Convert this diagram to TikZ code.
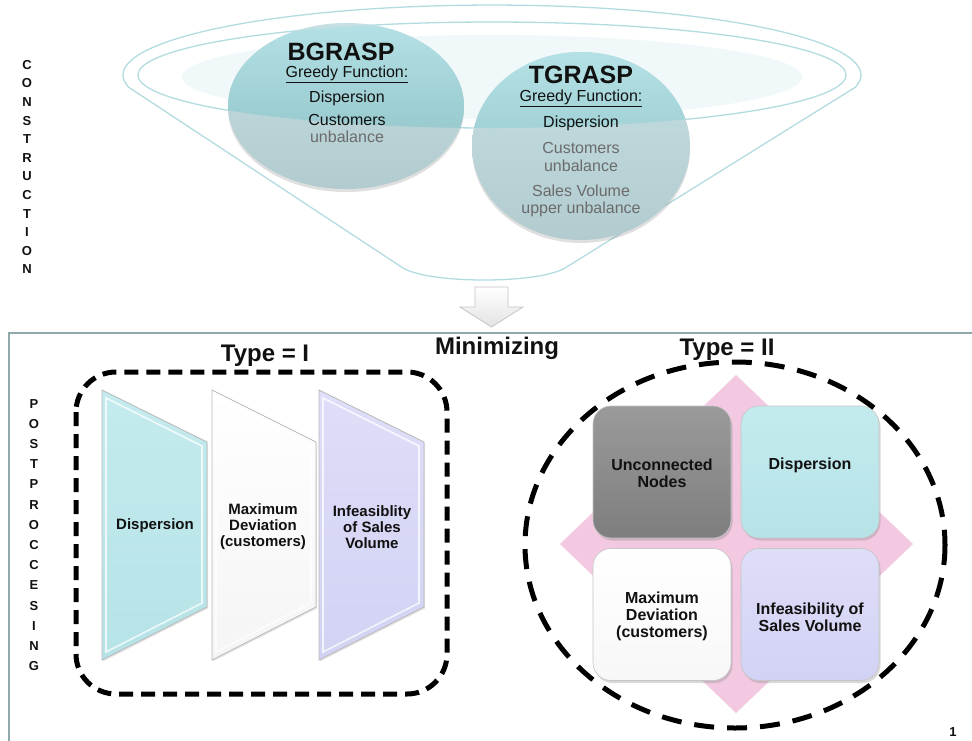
\documentclass[tikz,border=0pt]{standalone}
\usepackage{fontspec}
\setmainfont{Liberation Sans}
\usetikzlibrary{shadows}
\definecolor{funnelc}{HTML}{B3DCE1}
\definecolor{lidfill}{HTML}{F0F8FA}
\definecolor{circtop}{HTML}{B4E1E5}
\definecolor{circmid}{HTML}{88BDC2}
\definecolor{circlow}{HTML}{C6DFE2}
\definecolor{circbot}{HTML}{B2CBCF}
\definecolor{graytxt}{HTML}{6B6B6B}
\definecolor{framec}{HTML}{8FA8AC}
\definecolor{cyanbox}{HTML}{C4EBEE}
\definecolor{cyanboxb}{HTML}{B6E3E7}
\definecolor{lavbox}{HTML}{DEDEF9}
\definecolor{lavboxb}{HTML}{D2D2F4}
\definecolor{darkboxt}{HTML}{9A9A9A}
\definecolor{darkboxb}{HTML}{7E7E7E}
\definecolor{pinkd}{HTML}{F2C9E0}
\definecolor{txt}{HTML}{111111}
\tikzset{
  funnelline/.style={draw=funnelc, line width=1.3pt},
  circshade/.style={top color=circlow, bottom color=circbot,
     drop shadow={opacity=0.25, shadow xshift=0pt, shadow yshift=-3pt}},
  lidshade/.style={top color=circtop, bottom color=circmid},
  bigtitle/.style={font=\bfseries\fontsize{25}{25}\selectfont, text=txt, inner sep=0pt},
  regtxt/.style={font=\fontsize{16}{16}\selectfont, text=txt, inner sep=0pt},
  graytext/.style={regtxt, text=graytxt},
  vertletters/.style={font=\bfseries\fontsize{13}{#1}\selectfont, align=center, inner sep=0pt, text=txt},
  headtxt/.style={font=\bfseries\fontsize{24}{24}\selectfont, text=txt, inner sep=0pt},
  dashbox/.style={draw=black, line width=5pt, dash pattern=on 14pt off 8pt},
  dashell/.style={draw=black, line width=5pt, dash pattern=on 20pt off 13pt},
  trapshape/.style={draw=gray!55, line width=0.8pt,
     drop shadow={opacity=0.2, shadow xshift=1pt, shadow yshift=-1.5pt}},
  bevel/.style={draw=white, line width=1.6pt, opacity=0.75},
  traptxt/.style={font=\bfseries\fontsize{15}{16}\selectfont, align=center, text=txt, inner sep=0pt},
  qbox/.style={draw=gray!45, line width=0.6pt, rounded corners=18pt,
     minimum width=138pt, minimum height=132pt, inner sep=0pt,
     drop shadow={opacity=0.3, shadow xshift=1.5pt, shadow yshift=-2.5pt}},
  qtxt/.style={font=\bfseries\fontsize{16}{17}\selectfont, align=center, text=txt, inner sep=0pt},
}
\begin{document}
\begin{tikzpicture}[x=1pt,y=-1pt]
\useasboundingbox[fill=white] (0,0) rectangle (972,740);

% ---------- funnel ----------
\fill[lidfill] (492,77) ellipse[x radius=310, y radius=42];
\draw[funnelline] (492,75) ellipse[x radius=354, y radius=53];
\draw[funnelline] (128.6,87.2) arc[start angle=170, end angle=370, x radius=369, y radius=70]
   -- (565,268) .. controls (538,284) and (430,284) .. (403,268) -- cycle;

% circles (lower part)
\path[circshade] (346,106) ellipse[x radius=118, y radius=83];
\path[circshade] (581,146) ellipse[x radius=109, y radius=94];
% circles (part inside the lid)
\begin{scope}
  \clip (492,75) ellipse[x radius=354, y radius=53];
  \path[lidshade] (346,106) ellipse[x radius=118, y radius=83];
  \path[lidshade] (581,146) ellipse[x radius=109, y radius=94];
\end{scope}

% BGRASP texts
\node[bigtitle] (bgt) at (341,52) {BGRASP};
\node[regtxt] (bgg) at (347,74) {\underline{Greedy Function:}};
\node[regtxt] (bgd) at (347,98) {Dispersion};
\node[regtxt] (bgc) at (347,120) {Customers};
\node[graytext] (bgu) at (347,137) {unbalance};

% TGRASP texts
\node[bigtitle] (tgt) at (581,75) {TGRASP};
\node[regtxt] (tgg) at (581,98) {\underline{Greedy Function:}};
\node[regtxt] (tgd) at (581,123) {Dispersion};
\node[graytext] (tgc) at (581,148) {Customers};
\node[graytext] (tgu) at (581,166) {unbalance};
\node[graytext] (tgs) at (581,191) {Sales Volume};
\node[graytext] (tgv) at (581,209) {upper unbalance};

% vertical label
\node[vertletters=18.6] (constr) at (27,167) {C\\O\\N\\S\\T\\R\\U\\C\\T\\I\\O\\N};

% ---------- arrow ----------
\path[draw=gray!45, line width=0.8pt, top color=white, bottom color=gray!22]
  (475,287) -- (508,287) -- (508,307) -- (523,307) -- (491.5,327) -- (460,307) -- (475,307) -- cycle;

% ---------- lower frame ----------
\draw[framec, line width=2.5pt] (972,333) -- (9,333) -- (9,742);

\node[headtxt] (minim) at (497,348) {Minimizing};
\node[headtxt] (type1) at (265,356) {Type = I};
\node[headtxt] (type2) at (727,350) {Type = II};

\node[vertletters=20.2] (post) at (34,535) {P\\O\\S\\T\\P\\R\\O\\C\\C\\E\\S\\I\\N\\G};

% ---------- Type I ----------
\draw[dashbox, rounded corners=40pt] (76,372) rectangle (447,694);

\path[trapshape, top color=cyanbox, bottom color=cyanboxb] (102,390) -- (207,442) -- (207,607) -- (102,660) -- cycle;
\draw[bevel] (106,398) -- (202,446) -- (202,603) -- (106,652) -- cycle;
\path[trapshape, top color=white, bottom color=gray!8] (212,390) -- (316,442) -- (316,607) -- (212,660) -- cycle;
\draw[bevel] (216,398) -- (311,446) -- (311,603) -- (216,652) -- cycle;
\path[trapshape, top color=lavbox, bottom color=lavboxb] (319,390) -- (424,442) -- (424,607) -- (319,660) -- cycle;
\draw[bevel] (323,398) -- (419,446) -- (419,603) -- (323,652) -- cycle;

\node[traptxt] (t1a) at (155,526) {Dispersion};
\node[traptxt] (t1b) at (263,527) {Maximum\\Deviation\\(customers)};
\node[traptxt] (t1c) at (372,527) {Infeasiblity\\of Sales\\Volume};

% ---------- Type II ----------
\fill[pinkd] (560,544) -- (736,375) -- (913,544) -- (736,713) -- cycle;

\node[qbox, top color=darkboxt, bottom color=darkboxb] (ul) at (662,472) {};
\node[qbox, top color=cyanbox, bottom color=cyanboxb] (ur) at (810,472) {};
\node[qbox, top color=white, bottom color=gray!6] (ll) at (662,614.5) {};
\node[qbox, top color=lavbox, bottom color=lavboxb] (lr) at (810,614.5) {};

\node[qtxt] (ult) at (662,473) {Unconnected\\Nodes};
\node[qtxt] (urt) at (810,465) {Dispersion};
\node[qtxt] (llt) at (662,616) {Maximum\\Deviation\\(customers)};
\node[qtxt] (lrt) at (810,617) {Infeasibility of\\Sales Volume};

\draw[dashell] (735,545) ellipse[x radius=210, y radius=183];

\node[font=\bfseries\fontsize{13}{13}\selectfont, text=txt, inner sep=0pt] (pg) at (953,732) {1};
\end{tikzpicture}
\end{document}
